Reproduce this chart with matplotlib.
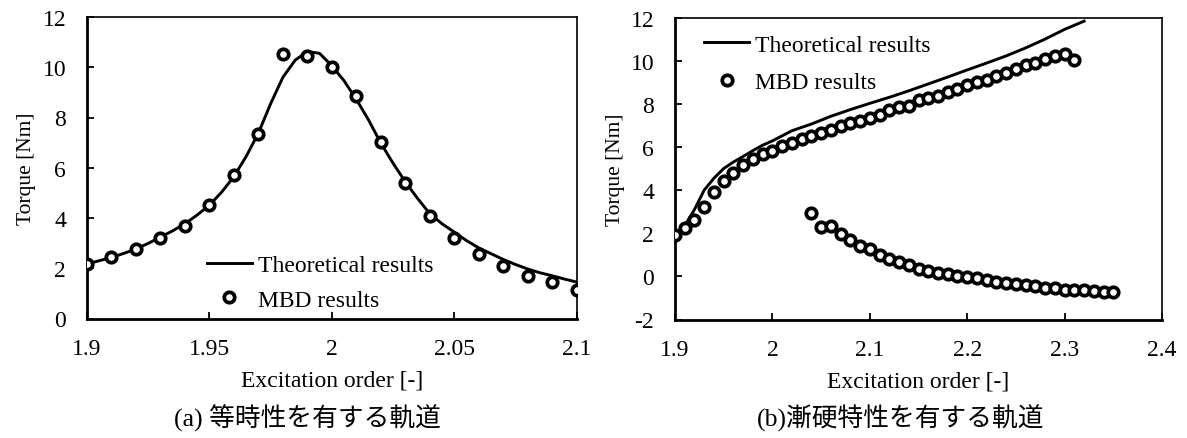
import matplotlib
matplotlib.use('Agg')
import matplotlib.pyplot as plt

plt.rcParams['font.family'] = ['Liberation Serif', 'Noto Sans CJK JP']
plt.rcParams['axes.unicode_minus'] = False

# (a) isochronous orbit
a_mbd_x = [1.90, 1.91, 1.92, 1.93, 1.94, 1.95, 1.96, 1.97, 1.98, 1.99, 2.00,
           2.01, 2.02, 2.03, 2.04, 2.05, 2.06, 2.07, 2.08, 2.09, 2.10]
a_mbd_y = [2.17, 2.43, 2.75, 3.22, 3.67, 4.52, 5.71, 7.35, 10.52, 10.44, 10.0,
           8.86, 7.03, 5.39, 4.06, 3.22, 2.55, 2.09, 1.71, 1.45, 1.13]
a_th_x = [1.900, 1.905, 1.910, 1.915, 1.920, 1.925, 1.930, 1.935, 1.940, 1.945,
          1.950, 1.955, 1.960, 1.965, 1.970, 1.975, 1.980, 1.985, 1.990, 1.995,
          2.000, 2.005, 2.010, 2.015, 2.020, 2.025, 2.030, 2.035, 2.040, 2.045,
          2.050, 2.055, 2.060, 2.065, 2.070, 2.075, 2.080, 2.085, 2.090, 2.095,
          2.100]
a_th_y = [2.17, 2.30, 2.43, 2.59, 2.77, 2.99, 3.24, 3.49, 3.77, 4.12,
          4.51, 5.03, 5.65, 6.45, 7.38, 8.55, 9.60, 10.28, 10.63, 10.55,
          10.06, 9.46, 8.72, 7.90, 6.98, 6.18, 5.44, 4.78, 4.17, 3.77,
          3.44, 3.10, 2.81, 2.58, 2.35, 2.15, 1.97, 1.82, 1.70, 1.57,
          1.45]

# (b) hardening orbit
b_up_x = [1.90, 1.91, 1.92, 1.93, 1.94, 1.95, 1.96, 1.97, 1.98, 1.99, 2.00,
          2.01, 2.02, 2.03, 2.04, 2.05, 2.06, 2.07, 2.08, 2.09, 2.10, 2.11,
          2.12, 2.13, 2.14, 2.15, 2.16, 2.17, 2.18, 2.19, 2.20, 2.21, 2.22,
          2.23, 2.24, 2.25, 2.26, 2.27, 2.28, 2.29, 2.30, 2.31]
b_up_y = [1.92, 2.22, 2.63, 3.20, 3.90, 4.44, 4.81, 5.14, 5.42, 5.66, 5.80,
          6.04, 6.17, 6.35, 6.50, 6.64, 6.80, 6.95, 7.11, 7.20, 7.32, 7.47,
          7.69, 7.84, 7.92, 8.18, 8.26, 8.38, 8.54, 8.70, 8.85, 9.00, 9.12,
          9.29, 9.45, 9.60, 9.82, 9.91, 10.06, 10.21, 10.30, 10.05]
b_low_x = [2.04, 2.05, 2.06, 2.07, 2.08, 2.09, 2.10, 2.11, 2.12, 2.13, 2.14,
           2.15, 2.16, 2.17, 2.18, 2.19, 2.20, 2.21, 2.22, 2.23, 2.24, 2.25,
           2.26, 2.27, 2.28, 2.29, 2.30, 2.31, 2.32, 2.33, 2.34, 2.35]
b_low_y = [2.92, 2.27, 2.32, 1.98, 1.69, 1.43, 1.28, 0.99, 0.81, 0.66, 0.52,
           0.36, 0.25, 0.17, 0.10, 0.03, -0.02, -0.08, -0.17, -0.24, -0.30, -0.37,
           -0.40, -0.46, -0.53, -0.56, -0.62, -0.62, -0.65, -0.70, -0.71, -0.71]
b_th_x = [1.90, 1.91, 1.92, 1.93, 1.94, 1.95, 1.96, 1.97, 1.98, 1.99, 2.00,
          2.02, 2.04, 2.06, 2.08, 2.10, 2.12, 2.14, 2.16, 2.18, 2.20, 2.22,
          2.24, 2.26, 2.28, 2.30, 2.32]
b_th_y = [1.94, 2.35, 3.10, 4.00, 4.55, 5.00, 5.30, 5.56, 5.83, 6.08, 6.28,
          6.75, 7.06, 7.42, 7.73, 8.02, 8.30, 8.60, 8.92, 9.24, 9.57, 9.89,
          10.22, 10.59, 11.00, 11.45, 11.83]

a_xticks = [1.9, 1.95, 2.0, 2.05, 2.1]
b_xticks = [1.9, 2.0, 2.1, 2.2, 2.3, 2.4]

W, H = 1187, 439
fig = plt.figure(figsize=(W / 100, H / 100), dpi=100)


def px_axes(x0, x1, y_top, y_bot):
    return fig.add_axes([x0 / W, 1 - y_bot / H, (x1 - x0) / W, (y_bot - y_top) / H])


def style(ax, xticks, ylim, legend_xy, spacing):
    ax.set_xticks(xticks)
    ax.set_xticklabels(['%g' % t for t in xticks])
    ax.set_xlim(xticks[0], xticks[-1])
    ax.set_ylim(*ylim)
    ax.set_yticks(range(ylim[0], ylim[1] + 1, 2))
    ax.tick_params(direction='in', length=5, width=1.3, labelsize=17)
    ax.tick_params(axis='y', pad=15)
    ax.tick_params(axis='x', pad=14)
    for side in ['left', 'bottom']:
        ax.spines[side].set_linewidth(2.0)
    for side in ['top', 'right']:
        ax.spines[side].set_linewidth(1.2)
    ax.set_xlabel('Excitation order [-]', fontsize=17, va='center')
    ax.xaxis.set_label_coords(0.5, -0.205)
    ax.set_ylabel('Torque [Nm]', fontsize=15.5, va='center', ha='center')
    ax.yaxis.set_label_coords(-0.123, 0.5)
    ax.legend(loc='upper left', bbox_to_anchor=legend_xy, frameon=False,
              fontsize=17, borderpad=0, borderaxespad=0, handlelength=1.9,
              handletextpad=0.25, labelspacing=spacing)


mk = dict(ls='none', marker='o', ms=7.5, mew=2.7, mec='black', mfc='white', zorder=3)

ax1 = px_axes(87, 576.7, 18, 319.5)
ax1.plot(a_th_x, a_th_y, color='black', lw=2.1, label='Theoretical results')
ax1.plot(a_mbd_x, a_mbd_y, label='MBD results', **mk)
style(ax1, a_xticks, (0, 12), (0.245, 0.212), 0.55)

ax2 = px_axes(675, 1162, 18.5, 320.5)
ax2.plot(b_th_x, b_th_y, color='black', lw=2.1, label='Theoretical results')
ax2.plot(b_up_x, b_up_y, label='MBD results', **mk)
ax2.plot(b_low_x, b_low_y, **mk)
style(ax2, b_xticks, (-2, 12), (0.06, 0.945), 0.68)

fig.text(174 / W, 1 - 418 / H, '(a) 等時性を有する軌道', fontsize=18.5, va='center', ha='left')
fig.text(757 / W, 1 - 418 / H, '(b)漸硬特性を有する軌道', fontsize=18.5, va='center', ha='left')

fig.savefig('out.png', dpi=100)
